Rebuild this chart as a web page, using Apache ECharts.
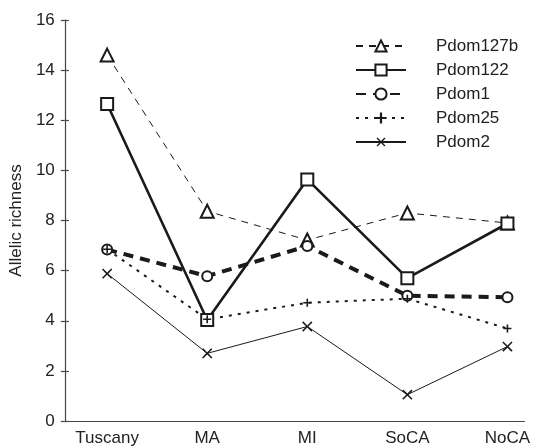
<!DOCTYPE html>
<html>
<head>
<meta charset="utf-8">
<script src="https://cdn.jsdelivr.net/npm/echarts@6/dist/echarts.min.js"></script>
<style>html,body{margin:0;padding:0;background:#fff}#c{width:533px;height:447px}</style>
</head>
<body>
<div id="c"></div>
<script>
const categories = ['Tuscany', 'MA', 'MI', 'SoCA', 'NoCA'];
const pdom127b = [14.6, 8.37, 7.22, 8.3, 7.9];
const pdom122 = [12.65, 4.03, 9.64, 5.7, 7.88];
const pdom1 = [6.84, 5.78, 6.98, 5.0, 4.94];
const pdom25 = [6.85, 4.06, 4.72, 4.88, 3.69];
const pdom2 = [5.88, 2.7, 3.77, 1.05, 2.97];
const yTicks = [0, 2, 4, 6, 8, 10, 12, 14, 16];

const toPts = arr => arr.map((v, i) => [i, v]);
const FONT = 'Liberation Sans, Arial, sans-serif';
const INK = '#1a1a1a';
const PLUS = 'path://M4,0H6V4H10V6H6V10H4V6H0V4H4Z';
const THINPLUS = 'path://M4.4,0H5.6V4.4H10V5.6H5.6V10H4.4V5.6H0V4.4H4.4Z';

const chart = echarts.init(document.getElementById('c'), null, {renderer: 'canvas'});
chart.setOption({
  animation: false,
  backgroundColor: '#fff',
  grid: {left: 62, right: 4, top: 20, bottom: 25, containLabel: false},
  legend: {
    orient: 'vertical',
    left: 350,
    top: 31,
    itemWidth: 50,
    itemHeight: 14,
    itemGap: 4,
    textStyle: {fontFamily: FONT, fontSize: 17, color: '#222', lineHeight: 20, padding: [0, 0, 0, 25]},
    data: ['Pdom127b', 'Pdom122', 'Pdom1', 'Pdom25', 'Pdom2']
  },
  xAxis: {
    type: 'value',
    min: -0.423,
    max: 4.169,
    axisLine: {show: true, onZero: false, lineStyle: {color: '#444', width: 1.2}},
    axisTick: {show: false},
    splitLine: {show: false},
    axisLabel: {
      customValues: [0, 1, 2, 3, 4],
      formatter: v => categories[Math.round(v)] || '',
      fontFamily: FONT, fontSize: 17, color: '#222', margin: 9
    }
  },
  yAxis: [{
    type: 'value',
    min: 0, max: 16, interval: 2,
    name: 'Allelic richness',
    nameLocation: 'middle',
    nameGap: 30,
    nameTextStyle: {fontFamily: FONT, fontSize: 17, color: '#222'},
    axisLine: {show: true, onZero: false, lineStyle: {color: '#444', width: 1.2}},
    axisTick: {show: true, inside: false, length: 4, lineStyle: {color: '#444', width: 1.2}},
    splitLine: {show: false},
    axisLabel: {fontFamily: FONT, fontSize: 17, color: '#222', margin: 10,
      formatter: v => yTicks.includes(v) ? String(v) : ''}
  }, {
    type: 'value',
    position: 'left',
    offset: 0,
    min: 0, max: 16, interval: 2,
    axisLine: {show: false, onZero: false},
    axisTick: {show: true, inside: true, length: 4, lineStyle: {color: '#444', width: 1.2}},
    splitLine: {show: false},
    axisLabel: {show: false}
  }],
  series: [
    {
      name: 'Pdom127b', type: 'line', data: toPts(pdom127b),
      symbol: 'emptyTriangle', symbolSize: 13,
      lineStyle: {color: INK, width: 1, type: [7, 6]},
      itemStyle: {color: INK, borderColor: INK, borderWidth: 1.2}
    },
    {
      name: 'Pdom122', type: 'line', data: toPts(pdom122),
      symbol: 'emptyRect', symbolSize: 12,
      lineStyle: {color: INK, width: 2.6},
      itemStyle: {color: INK, borderColor: INK, borderWidth: 2}
    },
    {
      name: 'Pdom1', type: 'line', data: toPts(pdom1),
      symbol: 'emptyCircle', symbolSize: 10,
      lineStyle: {color: INK, width: 4, type: [10, 7]},
      itemStyle: {color: INK, borderColor: INK, borderWidth: 3.5}
    },
    {
      name: 'Pdom25', type: 'line', data: toPts(pdom25),
      symbol: PLUS, symbolSize: 8,
      lineStyle: {color: INK, width: 2, type: [3, 6]},
      itemStyle: {color: INK}
    },
    {
      name: 'Pdom2', type: 'line', data: toPts(pdom2),
      symbol: THINPLUS, symbolSize: 13, symbolRotate: 45,
      lineStyle: {color: INK, width: 1},
      itemStyle: {color: INK}
    }
  ]
});
</script>
</body>
</html>
